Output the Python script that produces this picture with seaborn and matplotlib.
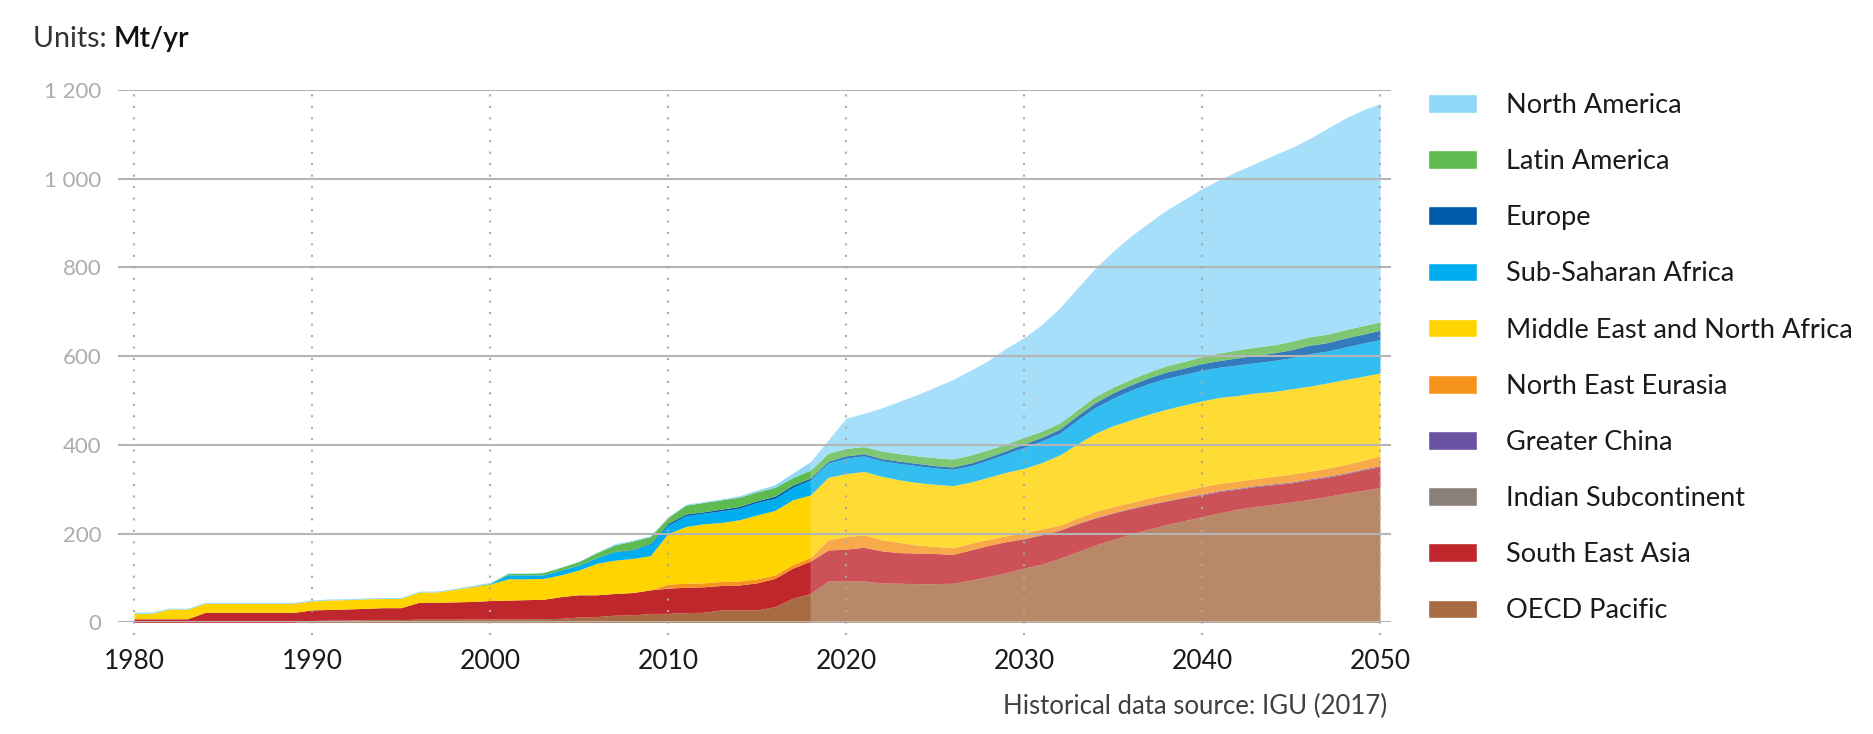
import numpy as np
import pandas as pd
import seaborn as sns
import matplotlib.pyplot as plt
from matplotlib.patches import Patch

# LNG exports by region, Mt/yr (historical to 2018, forecast after)
years = np.arange(1980, 2051)
last_historical = 2018

oecd_pacific = [
    0, 0, 0, 0, 0, 0, 0, 0, 0, 0,
    4, 5, 5, 6, 6, 6, 7, 7, 7, 7.5,
    7.5, 7.5, 8, 8, 9, 12, 13, 16, 16.5, 20,
    20, 22, 22.5, 28, 28, 28, 35, 54, 65, 93,
    94, 93, 89, 88, 87, 87, 88, 95, 103, 112,
    122, 131, 144, 159, 174, 187, 199, 210, 220, 229,
    238, 247, 255, 261, 266, 271, 277, 283, 291, 297,
    304]
south_east_asia = [
    8, 8, 8, 8, 22.5, 22.5, 22.5, 22.5, 22.5, 22.5,
    24, 24, 25, 25.5, 27, 27, 38, 38, 39, 39.5,
    41.5, 42.5, 43, 44, 49, 50, 49, 49, 50.5, 53,
    57, 57, 57.5, 55, 56, 61, 64, 68, 73, 70,
    71, 76, 72, 69, 69, 68, 65, 68, 70, 70,
    66, 66, 63, 63, 61, 59, 57, 55, 53, 52,
    49, 48, 45, 45, 44, 43, 44, 44, 43, 46,
    47]
indian_subcontinent = [
    0, 0, 0, 0, 0, 0, 0, 0, 0, 0,
    0, 0, 0, 0, 0, 0, 0, 0, 0, 0,
    0, 0, 0, 0, 0, 0, 0, 0, 0, 0,
    0, 0, 0, 0, 0, 0, 0, 0, 0, 0,
    0, 0, 0, 0, 0, 0, 0, 0, 0, 0,
    0, 0, 0, 0, 0, 0, 0, 0, 0, 0,
    0, 0, 0, 0, 0, 0, 0, 0, 0, 0,
    0]
greater_china = [
    0, 0, 0, 0, 0, 0, 0, 0, 0, 0,
    0, 0, 0, 0, 0, 0, 0, 0, 0, 0,
    0, 0, 0, 0, 0, 0, 0, 0, 0, 0,
    0, 0, 0, 0, 0, 0, 0, 0, 0, 0,
    0, 0, 0, 0, 0, 0, 0, 0, 0, 0,
    1, 1, 1, 1, 1, 1, 1, 1, 1, 1,
    2, 2, 2, 2, 2, 2, 2, 2, 2, 2,
    2]
north_east_eurasia = [
    0, 0, 0, 0, 0, 0, 0, 0, 0, 0,
    0, 0, 0, 0, 0, 0, 0, 0, 0, 0,
    0, 0, 0, 0, 0, 0, 0, 0, 0, 0,
    9, 9, 9, 9, 9, 9, 8, 8, 8, 23,
    28, 28, 25, 23, 18, 16, 15, 15, 14, 13,
    13, 12, 11, 12, 14, 14, 13, 14, 15, 15,
    17, 16, 16, 16, 17, 18, 17, 18, 19, 20,
    22]
middle_east_north_africa = [
    12, 12, 22, 21.5, 20.5, 20.5, 20.5, 20.5, 20.5, 20.5,
    20, 21.5, 21, 21.5, 20.5, 21, 23, 23.5, 28, 33,
    37, 48, 47, 47, 49, 56, 71, 75, 77, 77,
    114, 128, 133, 133, 138, 144, 145, 146, 141, 141,
    142, 143, 143, 141, 141, 140, 140, 138, 140, 143,
    145, 150, 158, 167, 176, 182, 186, 189, 191, 193,
    193, 194, 193, 193, 191, 192, 192, 192, 192, 189,
    187]
sub_saharan_africa = [
    0, 0, 0, 0, 0, 0, 0, 0, 0, 0,
    0, 0, 0, 0, 0, 0, 0, 0, 0, 0,
    1, 9, 9, 8, 11, 11, 13, 19, 19, 26,
    19, 24, 24, 26, 26, 28, 27, 28, 34, 32,
    35, 35, 35, 37, 38, 37, 37, 37, 39, 42,
    47, 49, 49, 54, 58, 62, 67, 69, 70, 69,
    69, 68, 69, 68, 70, 70, 73, 72, 73, 75,
    75]
europe = [
    0, 0, 0, 0, 0, 0, 0, 0, 0, 0,
    0, 0, 0, 0, 0, 0, 0, 0, 0, 0,
    0, 0, 0, 0, 0, 0, 0, 1, 1, 2,
    4, 4, 3, 4, 4, 4, 5, 5, 4, 4,
    5, 5, 5, 5, 5, 5, 5, 6, 6, 7,
    8, 8, 9, 10, 11, 12, 12, 13, 14, 14,
    15, 15, 16, 17, 17, 18, 19, 19, 20, 20,
    21]
latin_america = [
    0, 0, 0, 0, 0, 0, 0, 0, 0, 0,
    0, 0, 0, 0, 0, 0, 0, 0, 0, 1,
    1, 3, 3, 5, 6, 8, 11, 14, 19, 15,
    13, 20, 21, 21, 21, 20, 20, 17, 18, 18,
    17, 16, 17, 17, 17, 18, 18, 18, 17, 15,
    15, 14, 14, 13, 14, 13, 13, 13, 14, 15,
    16, 17, 18, 18, 18, 19, 19, 19, 19, 19,
    19]
north_america = [
    3, 3, 2, 2, 2, 2, 2, 2, 2, 2,
    2, 2, 2, 2, 2, 2, 2, 2, 2, 2,
    2, 1, 1, 1, 1, 1, 1, 3, 2, 2,
    2, 2, 2, 2, 3, 4, 6, 10, 19, 30,
    68, 75, 97, 118, 138, 159, 179, 191, 201, 216,
    224, 240, 259, 274, 289, 306, 322, 336, 351, 365,
    378, 391, 403, 414, 427, 436, 446, 463, 476, 486,
    492]

# stacking order, bottom to top
regions = ["OECD Pacific", "South East Asia", "Indian Subcontinent", "Greater China",
           "North East Eurasia", "Middle East and North Africa", "Sub-Saharan Africa",
           "Europe", "Latin America", "North America"]
colors = ["#a86b42", "#c0272d", "#8b7f7a", "#6c52a3", "#f7941d",
          "#ffd400", "#00aeef", "#005aab", "#5fba4f", "#8fd8f8"]

df = pd.DataFrame({
    "OECD Pacific": oecd_pacific,
    "South East Asia": south_east_asia,
    "Indian Subcontinent": indian_subcontinent,
    "Greater China": greater_china,
    "North East Eurasia": north_east_eurasia,
    "Middle East and North Africa": middle_east_north_africa,
    "Sub-Saharan Africa": sub_saharan_africa,
    "Europe": europe,
    "Latin America": latin_america,
    "North America": north_america,
}, index=years)

sns.set_theme(style="white")
plt.rcParams["font.family"] = ["Lato", "DejaVu Sans"]

W, H = 1873, 734
fig = plt.figure(figsize=(W / 100, H / 100), dpi=100)
ax = fig.add_axes([118 / W, 1 - 622.3 / H, (1391 - 118) / W, (622.3 - 89.8) / H])

hist = df.loc[:last_historical]
proj = df.loc[last_historical:]
ax.stackplot(hist.index, hist[regions].T.values, colors=colors, lw=0, zorder=2)
ax.stackplot(proj.index, proj[regions].T.values, colors=colors, alpha=0.8, lw=0, zorder=2)

ax.set_xlim(1979.1, 2050.62)
ax.set_ylim(0, 1200)

# grid drawn over the areas
for v in range(0, 1201, 200):
    ax.axhline(v, color="#b5b5b5", lw=1.5, zorder=3)
for yr in range(1980, 2051, 10):
    ax.plot([yr, yr], [-28, 1200], ls=(0, (1, 4.5)), lw=1.5, color="#aaaaaa",
            clip_on=False, zorder=3)

ax.set_yticks(range(0, 1201, 200))
ax.set_yticklabels([f"{v:,}".replace(",", " ") for v in range(0, 1201, 200)])
ax.set_xticks(range(1980, 2051, 10))
ax.tick_params(axis="y", length=0, pad=12, labelsize=16, labelcolor="#adadad")
ax.tick_params(axis="x", length=0, pad=19, labelsize=19, labelcolor="#1a1a1a")
sns.despine(ax=ax, left=True, bottom=True)
ax.grid(False)

t = fig.text(33 / W, 1 - 52 / H, "Units: ", fontsize=20.5, color="#333333", va="bottom")
ax.annotate("Mt/yr", xy=(1, 0), xycoords=t, va="bottom", ha="left",
            fontsize=20.5, color="#111111", fontweight="semibold")

fig.text(1387 / W, 1 - 714 / H, "Historical data source: IGU (2017)",
         ha="right", va="baseline", fontsize=18.5, color="#404040")

handles = [Patch(facecolor=c, label=r) for r, c in zip(regions, colors)][::-1]
leg = fig.legend(handles=handles, loc="upper left", bbox_to_anchor=(1428 / W, 1 - 93 / H),
                 frameon=False, fontsize=19.5, handlelength=1.82, handleheight=0.68,
                 handletextpad=1.05, labelspacing=1.15, borderaxespad=0, borderpad=0)
for txt in leg.get_texts():
    txt.set_color("#1a1a1a")

fig.savefig("out.png", dpi=100)
